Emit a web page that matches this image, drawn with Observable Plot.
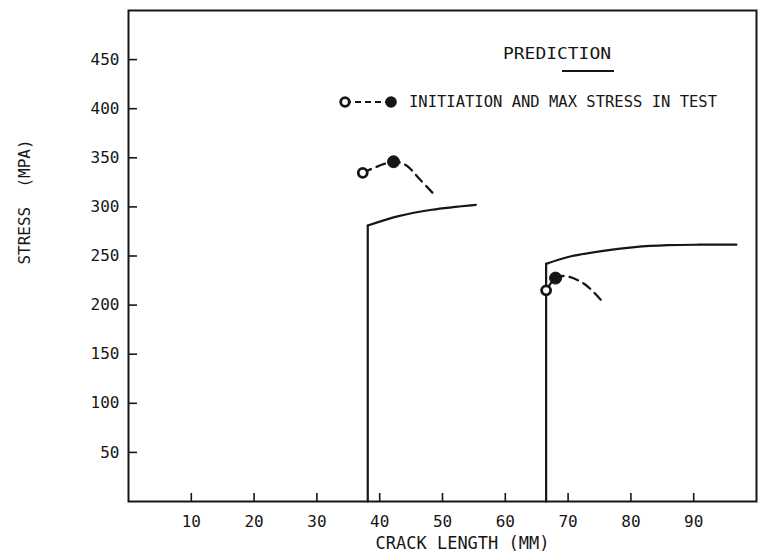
<!DOCTYPE html>
<html>
<head>
<meta charset="utf-8">
<script src="https://cdn.jsdelivr.net/npm/d3@7"></script>
<script src="https://cdn.jsdelivr.net/npm/@observablehq/plot@0.6"></script>
<style>
  body { margin: 0; background: #fff; }
  #wrap { position: relative; width: 763px; height: 558px; }
  #wrap svg.overlay { position: absolute; left: 0; top: 0; pointer-events: none; }
</style>
</head>
<body>
<div id="wrap"></div>
<script>
// ---- data ----
const xTicks = [10, 20, 30, 40, 50, 60, 70, 80, 90];
const yTicks = [50, 100, 150, 200, 250, 300, 350, 400, 450];
const xLabel = "CRACK LENGTH (MM)";
const yLabel = "STRESS  (MPA)";
const legendTitle = "PREDICTION";
const legendTest = "INITIATION AND MAX STRESS IN TEST";

// prediction curves (vertical rise at initial crack length, then R-curve)
const pred1Crack  = [38.1, 38.1, 43.0, 48.3, 55.3];
const pred1Stress = [0, 281, 290.6, 297.1, 302.1];
const pred2Crack  = [66.5, 66.5, 70.0, 75.3, 80.6, 85.9, 91.0, 96.8];
const pred2Stress = [0, 242, 249, 255, 259, 261, 261.5, 261.5];

// test results: [initiation, max stress, then falling tail]
const test1Crack  = [37.3, 42.2, 44.2, 46.3, 48.7];
const test1Stress = [334.7, 346.0, 342.5, 328.7, 312.4];
const test2Crack  = [66.5, 68.0, 69.6, 72.6, 75.2];
const test2Stress = [215, 227.5, 229.5, 221.5, 205.5];

// ---- layout ----
const W = 763, H = 558;
const M = {top: 10, right: 7, bottom: 57, left: 128};
const innerW = W - M.left - M.right;
const innerH = H - M.top - M.bottom;
const ink = "#161616";

// ---- tables ----
function predRows(crack, stress, id) {
  const rows = [];
  rows.push({crack: crack[0], stress: stress[0], series: id + "-rise"});
  rows.push({crack: crack[1], stress: stress[1], series: id + "-rise"});
  for (let i = 1; i < crack.length; i++) rows.push({crack: crack[i], stress: stress[i], series: id + "-curve"});
  return rows;
}
function testRows(crack, stress, id) {
  return crack.map((c, i) => ({crack: c, stress: stress[i], series: id, kind: i === 0 ? "init" : i === 1 ? "max" : "tail"}));
}
const preds = [...predRows(pred1Crack, pred1Stress, "p1"), ...predRows(pred2Crack, pred2Stress, "p2")];
const tests = [...testRows(test1Crack, test1Stress, "t1"), ...testRows(test2Crack, test2Stress, "t2")];

const chart = Plot.plot({
  width: W,
  height: H,
  marginTop: M.top,
  marginRight: M.right,
  marginBottom: M.bottom,
  marginLeft: M.left,
  style: {fontFamily: "'DejaVu Sans Mono', monospace", fontSize: "16px", color: ink, background: "#fff", overflow: "visible"},
  x: {domain: [0, 100], ticks: xTicks, tickSize: 0, tickPadding: 14, label: null},
  y: {domain: [0, 500], ticks: yTicks, tickSize: 0, tickPadding: 9, label: null},
  marks: [
    Plot.frame({stroke: ink, strokeWidth: 2}),
    // inward tick marks
    Plot.ruleX(xTicks, {x: d => d, insetTop: innerH - 8, stroke: ink, strokeWidth: 1.6}),
    Plot.ruleY(yTicks, {y: d => d, insetRight: innerW - 9, stroke: ink, strokeWidth: 1.6}),
    // predictions
    Plot.line(preds, {x: "crack", y: "stress", z: "series", curve: "catmull-rom", stroke: ink, strokeWidth: 2.2}),
    // tests
    Plot.line(tests, {x: "crack", y: "stress", z: "series", curve: "catmull-rom", stroke: ink, strokeWidth: 2.3, strokeDasharray: "9,6"}),
    Plot.dot(tests.filter(d => d.kind === "max"), {x: "crack", y: "stress", r: 6, fill: ink, stroke: ink, strokeWidth: 1}),
    Plot.dot(tests.filter(d => d.kind === "init"), {x: "crack", y: "stress", r: 4.5, fill: "#fff", stroke: ink, strokeWidth: 2.8}),
    // axis titles
    Plot.text([xLabel], {frameAnchor: "bottom", text: d => d, dx: 20, dy: 42, lineAnchor: "middle", textAnchor: "middle", fontSize: 17, fill: ink}),
    Plot.text([yLabel], {frameAnchor: "left", text: d => d, rotate: -90, dx: -104, dy: -54, lineAnchor: "middle", textAnchor: "middle", fontSize: 16, fill: ink})
  ]
});

const wrap = document.getElementById("wrap");
wrap.appendChild(chart);

// ---- in-plot legend overlay ----
const ov = d3.select(wrap).append("svg")
  .attr("class", "overlay")
  .attr("width", W).attr("height", H)
  .style("font-family", "'DejaVu Sans Mono', monospace")
  .style("fill", ink);

ov.append("text")
  .attr("x", 503).attr("y", 53.5)
  .attr("dominant-baseline", "central")
  .attr("font-size", 16)
  .attr("textLength", 108).attr("lengthAdjust", "spacingAndGlyphs")
  .text(legendTitle);
ov.append("line")
  .attr("x1", 562).attr("x2", 614).attr("y1", 71).attr("y2", 71)
  .attr("stroke", ink).attr("stroke-width", 2.2);

ov.append("line")
  .attr("x1", 345).attr("x2", 391).attr("y1", 102).attr("y2", 102)
  .attr("stroke", ink).attr("stroke-width", 2).attr("stroke-dasharray", "6,4");
ov.append("circle").attr("cx", 345).attr("cy", 102).attr("r", 4.3)
  .attr("fill", "#fff").attr("stroke", ink).attr("stroke-width", 2.8);
ov.append("circle").attr("cx", 391).attr("cy", 102).attr("r", 5.8).attr("fill", ink);
ov.append("text")
  .attr("x", 409).attr("y", 101)
  .attr("dominant-baseline", "central")
  .attr("font-size", 16)
  .attr("textLength", 308).attr("lengthAdjust", "spacingAndGlyphs")
  .text(legendTest);
</script>
</body>
</html>
